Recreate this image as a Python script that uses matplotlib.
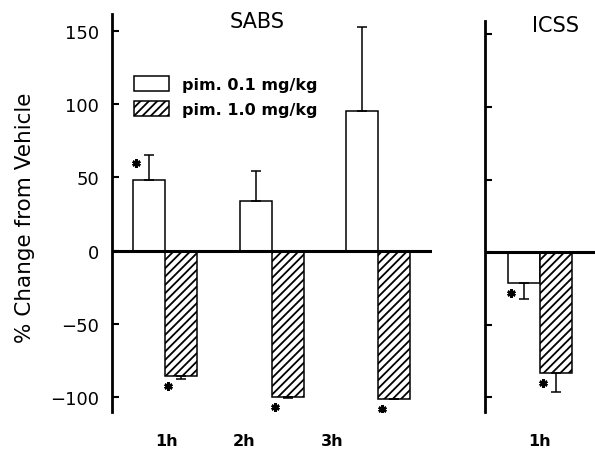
import numpy as np
import matplotlib
matplotlib.use("Agg")
import matplotlib.pyplot as plt

# valori (% change from vehicle)
gruppi_sabs = ["1h", "2h", "3h"]
sabs_01 = [48.3, 33.9, 95.3]
sabs_01_err = [16.7, 20.1, 57.0]
sabs_10 = [-85.3, -99.9, -100.8]
sabs_10_err = [2.2, 0.5, 0.5]
sabs_01_sig = [True, False, False]
sabs_10_sig = [True, True, True]

gruppi_icss = ["1h"]
icss_01 = [-21.2]
icss_01_err = [10.8]
icss_10 = [-82.9]
icss_10_err = [13.0]
icss_01_sig = [True]
icss_10_sig = [True]

etichette = ["pim. 0.1 mg/kg", "pim. 1.0 mg/kg"]

plt.rcParams["hatch.linewidth"] = 1.3
plt.rcParams["font.family"] = "DejaVu Sans"

W, H = 595, 452
fig = plt.figure(figsize=(W / 100, H / 100), dpi=100)

w = 0.3  # larghezza barre


def pannello(ax, val1, err1, sig1, val2, err2, sig2):
    x = np.arange(len(val1))
    b1 = ax.bar(x - w / 2, val1, w, color="white", edgecolor="k", linewidth=1.1, zorder=2)
    b2 = ax.bar(x + w / 2, val2, w, color="white", edgecolor="k", linewidth=1.1,
                hatch="////", zorder=2)
    # errori solo dal lato della barra
    for xs, v, e, s in [(x - w / 2, val1, err1, sig1), (x + w / 2, val2, err2, sig2)]:
        v = np.array(v)
        e = np.array(e)
        low = np.where(v < 0, e, 0)
        up = np.where(v >= 0, e, 0)
        ax.errorbar(xs, v, yerr=[low, up], fmt="none", ecolor="k", elinewidth=1.1,
                    capsize=3.5, capthick=1.1, zorder=3)
        # asterischi
        for xi, vi, ei, si in zip(xs, v, e, s):
            if not si:
                continue
            ys = vi + ei - 5 if vi >= 0 else vi - 7
            ax.plot(xi - 0.12, ys, marker=(6, 2, 0), ms=6, mew=1.8, color="k", zorder=4)
    ax.axhline(0, color="k", lw=2.2, zorder=5)
    for s in ["top", "right", "bottom"]:
        ax.spines[s].set_visible(False)
    ax.spines["left"].set_linewidth(2)
    ax.set_yticks([150, 100, 50, 0, -50, -100])
    ax.tick_params(axis="y", direction="in", length=5, width=1.5, pad=9)
    ax.tick_params(axis="x", length=0, pad=15)
    return b1, b2


# pannello SABS
ax1 = fig.add_axes([111.7 / W, 39 / H, 320 / W, 398 / H])
b1, b2 = pannello(ax1, sabs_01, sabs_01_err, sabs_01_sig, sabs_10, sabs_10_err, sabs_10_sig)
ax1.set_xlim(-0.5, 2.5)
ax1.set_ylim(-110, 161.4)
ax1.set_xticks([0.01, 0.74, 1.57])
ax1.set_xticklabels(gruppi_sabs, fontsize=11.5, fontweight="bold")
ax1.set_yticklabels(["150", "100", "50", "0", "\u221250", "\u2212100"], fontsize=13)
ax1.text(0.456, 0.983, "SABS", transform=ax1.transAxes, ha="center", va="center", fontsize=15)
ax1.legend([b1, b2], etichette, frameon=False, loc="upper left",
           bbox_to_anchor=(0.0706, 0.845), borderpad=0, borderaxespad=0,
           handlelength=2.2, handleheight=1.1, labelspacing=0.55, handletextpad=0.8,
           prop=dict(weight="bold", size=11.5))

# pannello ICSS
ax2 = fig.add_axes([485 / W, 39 / H, 110 / W, 391.3 / H])
pannello(ax2, icss_01, icss_01_err, icss_01_sig, icss_10, icss_10_err, icss_10_sig)
ax2.set_xlim(-0.516, 0.516)
ax2.set_ylim(-110, 159.5)
ax2.set_xticks([0.0])
ax2.set_xticklabels(gruppi_icss, fontsize=11.5, fontweight="bold")
ax2.set_yticklabels([])
ax2.text(0.644, 0.99, "ICSS", transform=ax2.transAxes, ha="center", va="center", fontsize=15)

fig.text(25.5 / W, 1 - 217.5 / H, "% Change from Vehicle", rotation=90,
         ha="center", va="center", fontsize=15.5)

fig.savefig("out.png", dpi=100)
